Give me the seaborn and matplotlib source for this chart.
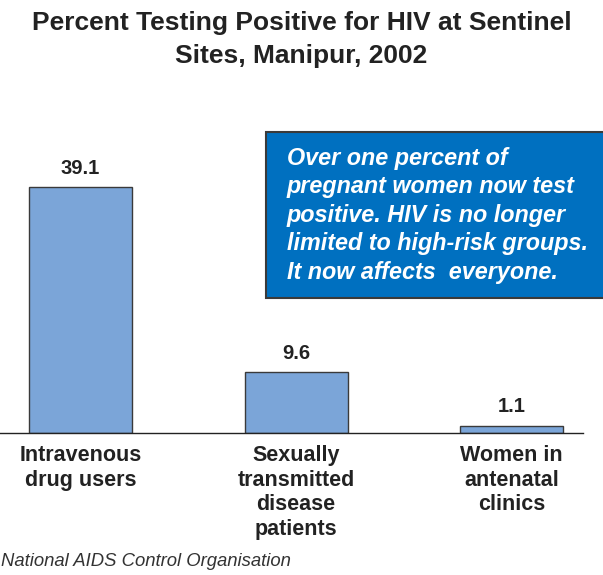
import matplotlib
matplotlib.use("Agg")
import matplotlib.pyplot as plt
import seaborn as sns
import pandas as pd

# Data
groups = ["Intravenous\ndrug users", "Sexually\ntransmitted\ndisease\npatients", "Women in\nantenatal\nclinics"]
percent_positive = [39.1, 9.6, 1.1]
title = "Percent Testing Positive for HIV at Sentinel\nSites, Manipur, 2002"
callout = ("Over one percent of\npregnant women now test\npositive. HIV is no longer\n"
           "limited to high-risk groups.\nIt now affects  everyone.")
source = "National AIDS Control Organisation"

df = pd.DataFrame({"Group": groups, "Percent": percent_positive})

sns.set_style("white")
plt.rcParams["font.family"] = ["Liberation Sans", "DejaVu Sans"]

fig = plt.figure(figsize=(6.03, 5.75), dpi=100)
ax = fig.add_axes([0.0, 0.2475, 0.967, 0.5455])

sns.barplot(x="Group", y="Percent", data=df, color="#7BA5D8", saturation=1,
            width=0.478, edgecolor="#3a3a3a", linewidth=1.0, ax=ax)

for i, v in enumerate(percent_positive):
    ax.text(i, v + 1.5, f"{v}", ha="center", va="bottom",
            fontsize=14.5, fontweight="bold", color="#222222")

ax.set_xlim(-0.374, 2.332)
ax.set_ylim(0, 50)
ax.set_xlabel("")
ax.set_ylabel("")
ax.set_yticks([])
ax.tick_params(axis="x", length=0, pad=9)
for lab in ax.get_xticklabels():
    lab.set_fontsize(15.5)
    lab.set_fontweight("bold")
    lab.set_color("#222222")
    lab.set_linespacing(1.22)
for side in ["top", "right", "left"]:
    ax.spines[side].set_visible(False)
ax.spines["bottom"].set_color("#222222")
ax.spines["bottom"].set_linewidth(1.0)

fig.text(0.5, 1 - 11 / 575, title, ha="center", va="top", fontsize=19,
         fontweight="bold", color="#222222", linespacing=1.45)

# Blue callout box
box = plt.Rectangle((266 / 603, 1 - 298 / 575), (603 - 266) / 603 + 0.01, (298 - 132) / 575,
                    transform=fig.transFigure, facecolor="#0070C0",
                    edgecolor="#3a3a3a", linewidth=1.5, zorder=5)
fig.add_artist(box)
fig.text(287 / 603, 1 - 147 / 575, callout, ha="left", va="top", fontsize=16.8,
         fontweight="bold", fontstyle="italic", color="white",
         linespacing=1.3, zorder=6)

fig.text(0.002, 1 - 561 / 575, source, ha="left", va="center", fontsize=13.3,
         fontstyle="italic", color="#333333")

fig.savefig("out.png", dpi=100)
